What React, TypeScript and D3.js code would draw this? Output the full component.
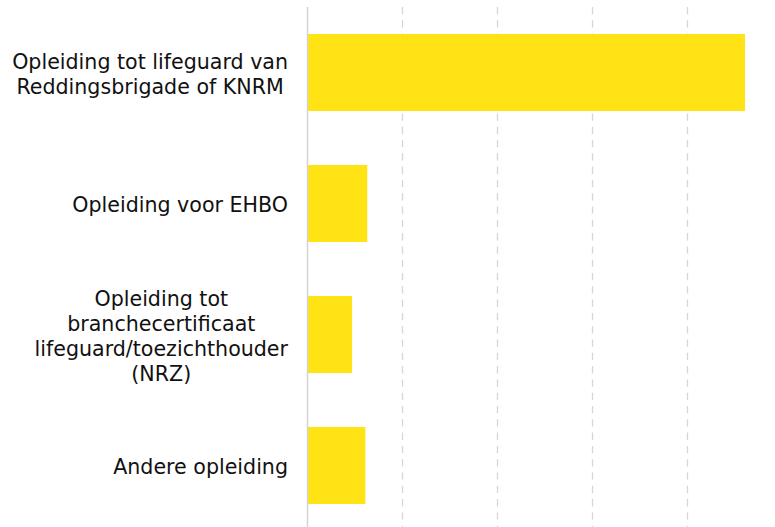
import React, { useMemo } from "react";
import * as d3 from "d3";

const categories = [
  "Opleiding tot lifeguard van Reddingsbrigade of KNRM",
  "Opleiding voor EHBO",
  "Opleiding tot branchecertificaat lifeguard/toezichthouder (NRZ)",
  "Andere opleiding",
];
const labelLines = [
  ["Opleiding tot lifeguard van", "Reddingsbrigade of KNRM"],
  ["Opleiding voor EHBO"],
  ["Opleiding tot", "branchecertificaat", "lifeguard/toezichthouder", "(NRZ)"],
  ["Andere opleiding"],
];
const values = [46.1, 6.3, 4.7, 6.1];
const gridTicks = [10, 20, 30, 40];

const W = 775;
const H = 527;
const FONT = "DejaVu Sans";
const FS = 20.6;
const LH = 25;

export default function App() {
  const x = d3.scaleLinear().domain([0, 50]).range([307.5, 307.5 + 474.5]);
  const y = d3
    .scaleBand<string>()
    .domain(categories)
    .range([7, 531])
    .paddingInner(0.412)
    .paddingOuter(0.206);

  const widths = useMemo(() => {
    const c = document.createElement("canvas").getContext("2d")!;
    c.font = `${FS}px "${FONT}"`;
    return labelLines.map((ls) => Math.max(...ls.map((l) => c.measureText(l).width)));
  }, []);

  const labelRight = 288;

  return (
    <svg
      width={W}
      height={H}
      style={{ position: "fixed", left: 0, top: 0, background: "#fff" }}
      fontFamily={FONT}
    >
      {gridTicks.map((t) => (
        <line
          key={t}
          x1={Math.round(x(t)) + 0.5}
          x2={Math.round(x(t)) + 0.5}
          y1={7}
          y2={H}
          stroke="#d6d6d6"
          strokeWidth={1.3}
          strokeDasharray="7.3,6"
        />
      ))}
      {categories.map((c, i) => (
        <rect
          key={c}
          x={x(0)}
          y={y(c)!}
          width={x(values[i]) - x(0)}
          height={y.bandwidth()}
          fill="#ffe314"
        />
      ))}
      <line x1={307.5} x2={307.5} y1={7} y2={H} stroke="#d4d4d4" strokeWidth={1.5} />
      {categories.map((c, i) => {
        const lines = labelLines[i];
        const cy = y(c)! + y.bandwidth() / 2;
        const first = cy + 8.6 - ((lines.length - 1) * LH) / 2;
        const cx = labelRight - widths[i] / 2;
        return (
          <text key={c} textAnchor="middle" fontSize={FS} fill="#111">
            {lines.map((l, j) => (
              <tspan key={j} x={cx} y={first + j * LH}>
                {l}
              </tspan>
            ))}
          </text>
        );
      })}
    </svg>
  );
}
